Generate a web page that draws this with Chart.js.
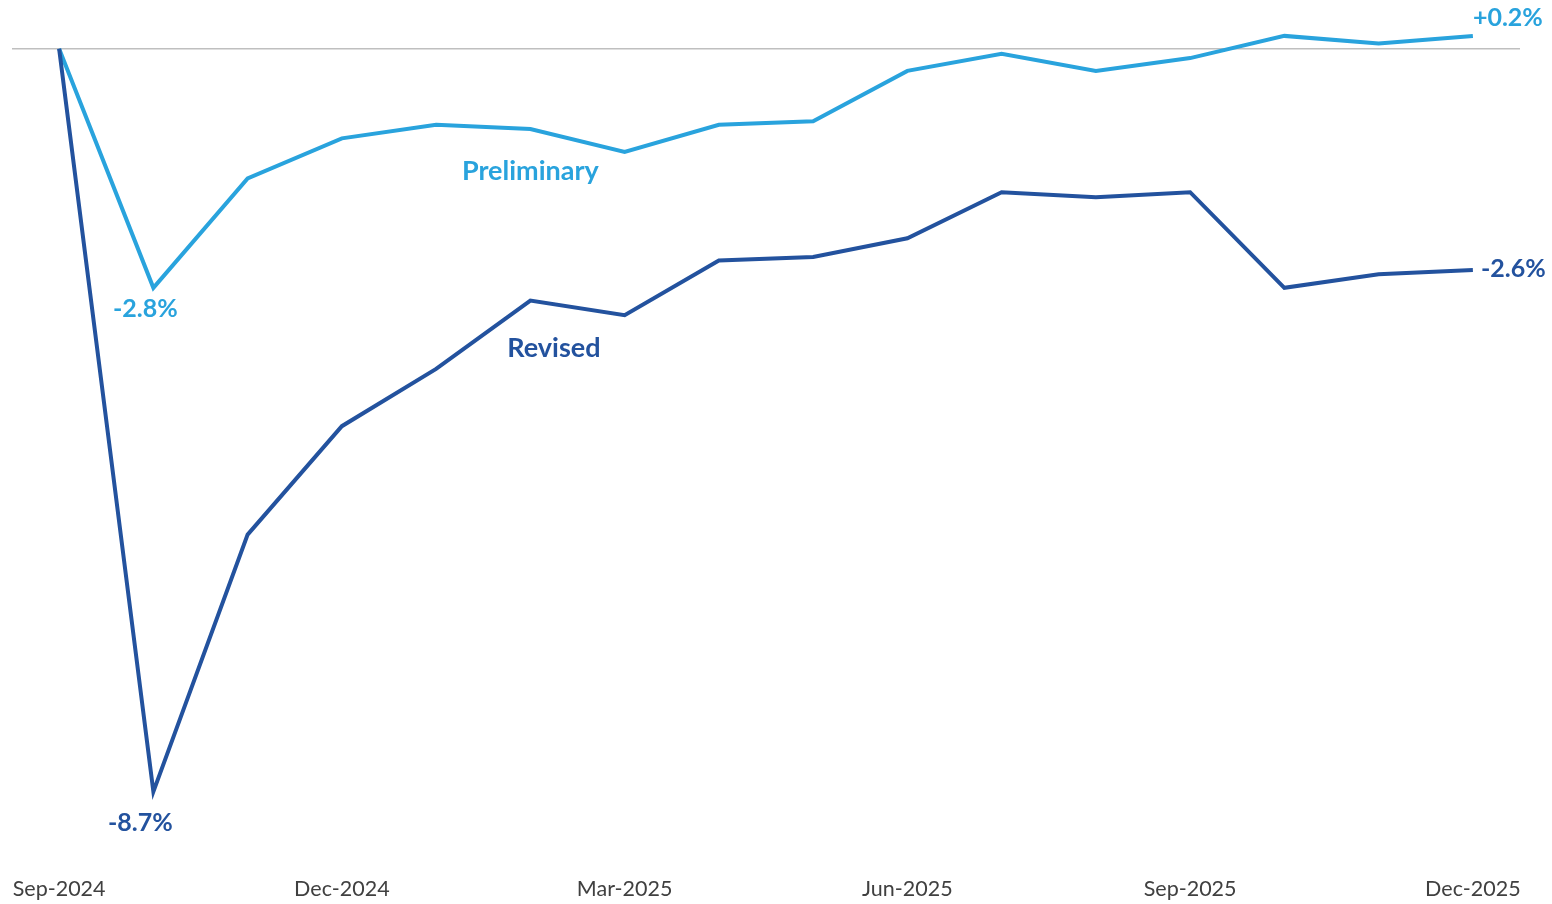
<!DOCTYPE html>
<html>
<head>
<meta charset="utf-8">
<script src="https://cdn.jsdelivr.net/npm/chart.js@4/dist/chart.umd.min.js"></script>
<style>
  body { margin: 0; background: #fff; }
  #wrap { width: 1552px; height: 904px; position: relative; }
</style>
</head>
<body>
<div id="wrap"><canvas id="chart"></canvas></div>
<script>
// months on the x axis, only every third one gets a tick label
const months = [
  "Sep-2024", "Oct-2024", "Nov-2024", "Dec-2024", "Jan-2025", "Feb-2025",
  "Mar-2025", "Apr-2025", "May-2025", "Jun-2025", "Jul-2025", "Aug-2025",
  "Sep-2025", "Oct-2025", "Nov-2025", "Dec-2025"
];

// cumulative change, %
const preliminary = [0, -2.8, -1.52, -1.05, -0.89, -0.94, -1.21, -0.89, -0.85, -0.26, -0.06, -0.26, -0.11, 0.15, 0.06, 0.15];
const revised = [0, -8.7, -5.69, -4.42, -3.75, -2.95, -3.12, -2.48, -2.44, -2.22, -1.68, -1.74, -1.68, -2.8, -2.64, -2.59];

const LIGHT = "#29a3dd";
const DARK = "#23529e";

// text labels: [text, color, index, value, dx, dy, align, size]
const labels = [
  ["-2.8%", LIGHT, 1, preliminary[1], -8, 21, "center", 25],
  ["-8.7%", DARK, 1, revised[1], -13, 31, "center", 25],
  ["+0.2%", LIGHT, 15, preliminary[15], 35, -18, "center", 25],
  ["-2.6%", DARK, 15, revised[15], 8, -1, "left", 25],
  ["Preliminary", LIGHT, 5, -1.44, 0, 0, "center", 27],
  ["Revised", DARK, 5.25, -3.51, 0, 0, "center", 27]
];

const textPlugin = {
  id: "textLabels",
  afterDatasetsDraw(chart) {
    const ctx = chart.ctx;
    const xs = chart.scales.x;
    const ys = chart.scales.y;
    ctx.save();
    for (const l of labels) {
      const i = l[2];
      const lo = Math.floor(i);
      let x = xs.getPixelForValue(lo);
      if (i !== lo) x += (xs.getPixelForValue(lo + 1) - x) * (i - lo);
      const y = ys.getPixelForValue(l[3]);
      ctx.font = "bold " + l[7] + "px Lato";
      ctx.fillStyle = l[1];
      ctx.textAlign = l[6];
      ctx.textBaseline = "middle";
      ctx.fillText(l[0], x + l[4], y + l[5]);
    }
    ctx.restore();
  }
};

new Chart(document.getElementById("chart"), {
  type: "line",
  data: {
    labels: months,
    datasets: [
      {
        label: "Revised",
        data: revised,
        borderColor: DARK,
        borderWidth: 4,
        pointRadius: 0,
        tension: 0,
      },
      {
        label: "Preliminary",
        data: preliminary,
        borderColor: LIGHT,
        borderWidth: 4,
        pointRadius: 0,
        tension: 0,
      },
    ],
  },
  options: {
    responsive: true,
    maintainAspectRatio: false,
    animation: false,
    layout: { padding: { left: 12, right: 32, top: 6, bottom: 4 } },
    plugins: {
      legend: { display: false },
      tooltip: { enabled: false },
    },
    scales: {
      x: {
        offset: true,
        grid: { display: false, drawTicks: false },
        border: { display: false },
        afterFit: (s) => {
          s.height = 40;
          s.paddingLeft = 0;
          s.paddingRight = 0;
        },
        ticks: {
          autoSkip: false,
          maxRotation: 0,
          padding: 16,
          color: "#404040",
          font: { family: "Lato", size: 21.5 },
          callback: (v, i) => (i % 3 === 0 ? months[i] : ""),
        },
      },
      y: {
        min: -9.5,
        max: 0.5,
        afterFit: (s) => { s.width = 0; },
        grid: {
          drawTicks: false,
          lineWidth: 1.5,
          color: (c) => (c.tick && c.tick.value === 0 ? "#bfbfbf" : "rgba(0,0,0,0)"),
        },
        border: { display: false },
        ticks: { display: false, stepSize: 0.5 },
      },
    },
  },
  plugins: [textPlugin],
});
</script>
</body>
</html>
